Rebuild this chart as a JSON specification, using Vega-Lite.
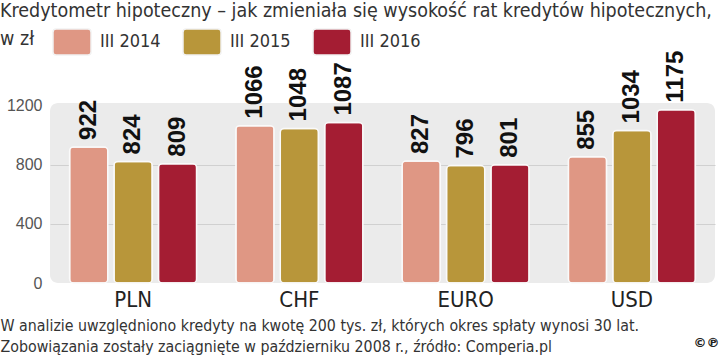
{
  "$schema": "https://vega.github.io/schema/vega-lite/v6.json",
  "autosize": {"type": "none"},
  "width": 665,
  "height": 180,
  "padding": {"left": 50, "top": 103, "right": 5, "bottom": 73},
  "background": "white",
  "config": {
    "font": "DejaVu Sans Condensed, Liberation Sans, sans-serif",
    "view": {"fill": "#ebebeb", "stroke": null, "cornerRadius": 8}
  },
  "title": {
    "text": ["Kredytometr hipoteczny – jak zmieniała się wysokość rat kredytów hipotecznych,", "w zł"],
    "anchor": "start",
    "frame": "group",
    "orient": "top",
    "dx": -50,
    "dy": 31,
    "baseline": "top",
    "font": "DejaVu Sans Condensed, Liberation Sans, sans-serif",
    "fontSize": 19.5,
    "fontWeight": "normal",
    "color": "#333333",
    "lineHeight": 28
  },
  "data": {
    "values": [
      {"currency": "PLN", "year": "III 2014", "value": 922},
      {"currency": "PLN", "year": "III 2015", "value": 824},
      {"currency": "PLN", "year": "III 2016", "value": 809},
      {"currency": "CHF", "year": "III 2014", "value": 1066},
      {"currency": "CHF", "year": "III 2015", "value": 1048},
      {"currency": "CHF", "year": "III 2016", "value": 1087},
      {"currency": "EURO", "year": "III 2014", "value": 827},
      {"currency": "EURO", "year": "III 2015", "value": 796},
      {"currency": "EURO", "year": "III 2016", "value": 801},
      {"currency": "USD", "year": "III 2014", "value": 855},
      {"currency": "USD", "year": "III 2015", "value": 1034},
      {"currency": "USD", "year": "III 2016", "value": 1175}
    ]
  },
  "encoding": {
    "x": {
      "field": "currency",
      "type": "nominal",
      "sort": ["PLN", "CHF", "EURO", "USD"],
      "scale": {"paddingInner": 0.236, "paddingOuter": 0.118},
      "axis": {
        "title": ["W analizie uwzględniono kredyty na kwotę 200 tys. zł, których okres spłaty wynosi 30 lat.", "Zobowiązania zostały zaciągnięte w październiku 2008 r., źródło: Comperia.pl"],
        "labelFont": "DejaVu Sans Condensed, Liberation Sans, sans-serif",
        "labelFontSize": 22,
        "labelColor": "#222222",
        "labelPadding": 6,
        "labelAngle": 0,
        "domain": false,
        "ticks": false,
        "titleAnchor": "start",
        "titleAlign": "left",
        "titleBaseline": "middle",
        "titleX": -50,
        "titleY": 42,
        "titleFont": "DejaVu Sans Condensed, Liberation Sans, sans-serif",
        "titleFontSize": 15.8,
        "titleFontWeight": "normal",
        "titleColor": "#333333",
        "titleLineHeight": 21
      }
    },
    "xOffset": {
      "field": "year",
      "type": "nominal",
      "sort": ["III 2014", "III 2015", "III 2016"],
      "scale": {"paddingInner": 0.14, "paddingOuter": 0}
    },
    "y": {
      "field": "value",
      "type": "quantitative",
      "scale": {"domain": [0, 1220], "nice": false},
      "axis": {
        "values": [0, 400, 800, 1200],
        "format": "d",
        "title": "©℗",
        "titleAngle": 0,
        "titleX": 643,
        "titleY": 239,
        "titleAlign": "left",
        "titleBaseline": "middle",
        "titleFont": "DejaVu Sans",
        "titleFontWeight": "bold",
        "titleFontSize": 13,
        "titleColor": "#222222",
        "domain": false,
        "ticks": false,
        "labelFont": "Liberation Sans",
        "labelFontSize": 16,
        "labelColor": "#555555",
        "labelPadding": 8,
        "gridColor": {"condition": {"test": "datum.value === 0 || datum.value === 1200", "value": "transparent"}, "value": "#d0d0d0"},
        "gridWidth": 1
      }
    }
  },
  "layer": [
    {
      "mark": {"type": "bar", "cornerRadius": 4, "stroke": "#fafafa", "strokeWidth": 1.5},
      "encoding": {
        "color": {
          "field": "year",
          "type": "nominal",
          "sort": ["III 2014", "III 2015", "III 2016"],
          "scale": {"range": ["#df9784", "#b8963a", "#a41d33"]},
          "legend": {
            "orient": "none",
            "legendX": 2,
            "legendY": -81,
            "direction": "horizontal",
            "title": null,
            "padding": 0,
            "symbolType": "M-0.84,-0.68H0.84Q1,-0.68 1,-0.52V0.52Q1,0.68 0.84,0.68H-0.84Q-1,0.68 -1,0.52V-0.52Q-1,-0.68 -0.84,-0.68Z",
            "symbolSize": 1444,
            "symbolStrokeColor": "#f2f2f2",
            "symbolStrokeWidth": 1.5,
            "symbolOpacity": 1,
            "labelFont": "DejaVu Sans Condensed, Liberation Sans, sans-serif",
            "labelFontSize": 18,
            "labelColor": "#333333",
            "labelOffset": 8,
            "columnPadding": 19
          }
        }
      }
    },
    {
      "mark": {"type": "text", "angle": 270, "align": "left", "baseline": "middle", "dx": 7, "font": "Liberation Sans", "fontWeight": "bold", "fontSize": 24, "color": "#111111"},
      "encoding": {"text": {"field": "value", "type": "quantitative"}}
    }
  ]
}
